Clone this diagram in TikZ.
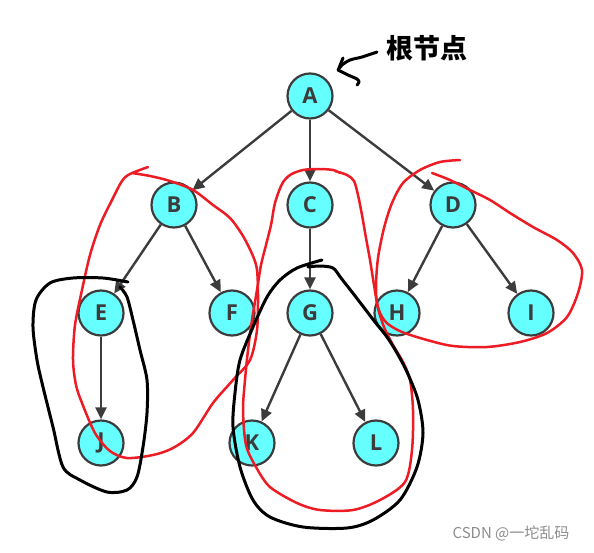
\documentclass[tikz,border=0pt]{standalone}
\usepackage{fontspec}
\usetikzlibrary{arrows.meta}
\newfontfamily\letterfont{Open Sans}
\newfontfamily\cjk{Noto Sans CJK SC}
\definecolor{nodefill}{HTML}{66FFFF}
\definecolor{nodeline}{HTML}{3C3C3C}
\definecolor{penred}{HTML}{ED1C24}

\begin{document}
\begin{tikzpicture}[x=1pt, y=-1pt,
  vertex/.style={circle, draw=nodeline, line width=2.2pt, fill=nodefill,
    minimum size=45pt, inner sep=0pt, text=nodeline,
    font=\letterfont\bfseries\fontsize{22}{26}\selectfont},
  edge/.style={draw=nodeline, line width=2.4pt, -{Triangle[length=12pt,width=11pt]}},
  redpen/.style={penred, line width=2.5pt, line cap=round, line join=round},
  blackpen/.style={black, line width=3pt, line cap=round, line join=round}]
  \useasboundingbox (0,0) rectangle (594,552);

  % the tree
  \node[vertex] (A) at (310,96) {A};
  \node[vertex] (B) at (174,205) {B};
  \node[vertex] (C) at (310,205) {C};
  \node[vertex] (D) at (453,205) {D};
  \node[vertex] (E) at (101,313) {E};
  \node[vertex] (F) at (232,313) {F};
  \node[vertex] (G) at (310,313) {G};
  \node[vertex] (H) at (397,313) {H};
  \node[vertex] (I) at (531,313) {I};
  \node[vertex] (J) at (101,443) {J};
  \node[vertex] (K) at (252,443) {K};
  \node[vertex] (L) at (376,443) {L};

  \draw[edge] (A) to (B);
  \draw[edge] (A) to (C);
  \draw[edge] (A) to (D);
  \draw[edge] (B) to (E);
  \draw[edge] (B) to (F);
  \draw[edge] (C) to (G);
  \draw[edge] (D) to (H);
  \draw[edge] (D) to (I);
  \draw[edge] (E) to (J);
  \draw[edge] (G) to (K);
  \draw[edge] (G) to (L);

  % root label with hand arrow
  \node[font=\cjk\bfseries\fontsize{27}{30}\selectfont] (root) at (427,48) {根节点};
  \draw[blackpen] plot[smooth, tension=0.5] coordinates {(377,52) (362,57) (350,60) (342,65) (338,70)};
  \draw[blackpen] plot[smooth, tension=0.5] coordinates {(338,70) (348,75) (357,79) (359,82) (357,85)};
  \draw[blackpen] (343,58) -- (339,68);

  % red loops
  \draw[redpen] plot[smooth, tension=0.5] coordinates {(148,167) (130,174) (122,181) (112,200)
    (100,225) (90,255) (82,290) (75,325) (73,360) (76,385) (82,403) (95,433) (110,451) (127,458)
    (153,455) (173,448) (193,433) (213,403) (233,380) (250,360) (257,330) (258,295) (257,270)
    (253,256) (243,236) (230,218) (213,205) (193,190) (170,181) (150,176) (132,173)};
  \draw[redpen] plot[smooth, tension=0.5] coordinates {(340,173) (333,170) (320,169) (303,170)
    (290,175) (282,184) (275,203) (271,225) (266,245) (261,265) (257,290) (252,320) (248,350)
    (245,380) (243,410) (246,445) (256,467) (270,487) (297,503) (320,510) (353,510) (380,500)
    (405,482) (412,450) (413,410) (410,380) (403,362) (393,345) (384,327) (378,308) (374,285)
    (370,260) (366,238) (362,215) (358,195) (354,181) (347,175) (335,171)};
  \draw[redpen] plot[smooth, tension=0.5] coordinates {(460,160) (440,162) (420,170) (403,183)
    (392,203) (384,228) (378,258) (376,285) (377,303) (381,315) (388,324) (402,332) (427,340)
    (453,346) (487,347) (520,342) (547,333) (567,317) (578,293) (582,270) (573,253) (557,240)
    (533,227) (510,213) (490,200) (470,190) (450,180) (432,173)};

  % black loops
  \draw[blackpen] plot[smooth, tension=0.5] coordinates {(128,282) (103,278) (73,278) (50,283)
    (36,300) (33,327) (37,360) (43,387) (53,427) (63,467) (80,480) (107,492) (127,490) (137,477)
    (143,447) (147,413) (147,380) (140,350) (133,320) (127,297) (120,287)};
  \draw[blackpen] plot[smooth, tension=0.5] coordinates {(322,260) (297,268) (280,280) (267,297)
    (253,327) (240,360) (235,393) (233,427) (240,467) (253,500) (270,517) (303,527) (347,528)
    (373,520) (400,500) (417,467) (423,433) (418,400) (407,372) (397,353) (387,337) (375,322)
    (362,305) (352,292) (341,278) (333,268) (320,266) (308,267)};

  % watermark
  \node[font=\cjk\fontsize{15}{17}\selectfont, text=black!45] (mark) at (511,533) {CSDN @一坨乱码};
\end{tikzpicture}
\end{document}
